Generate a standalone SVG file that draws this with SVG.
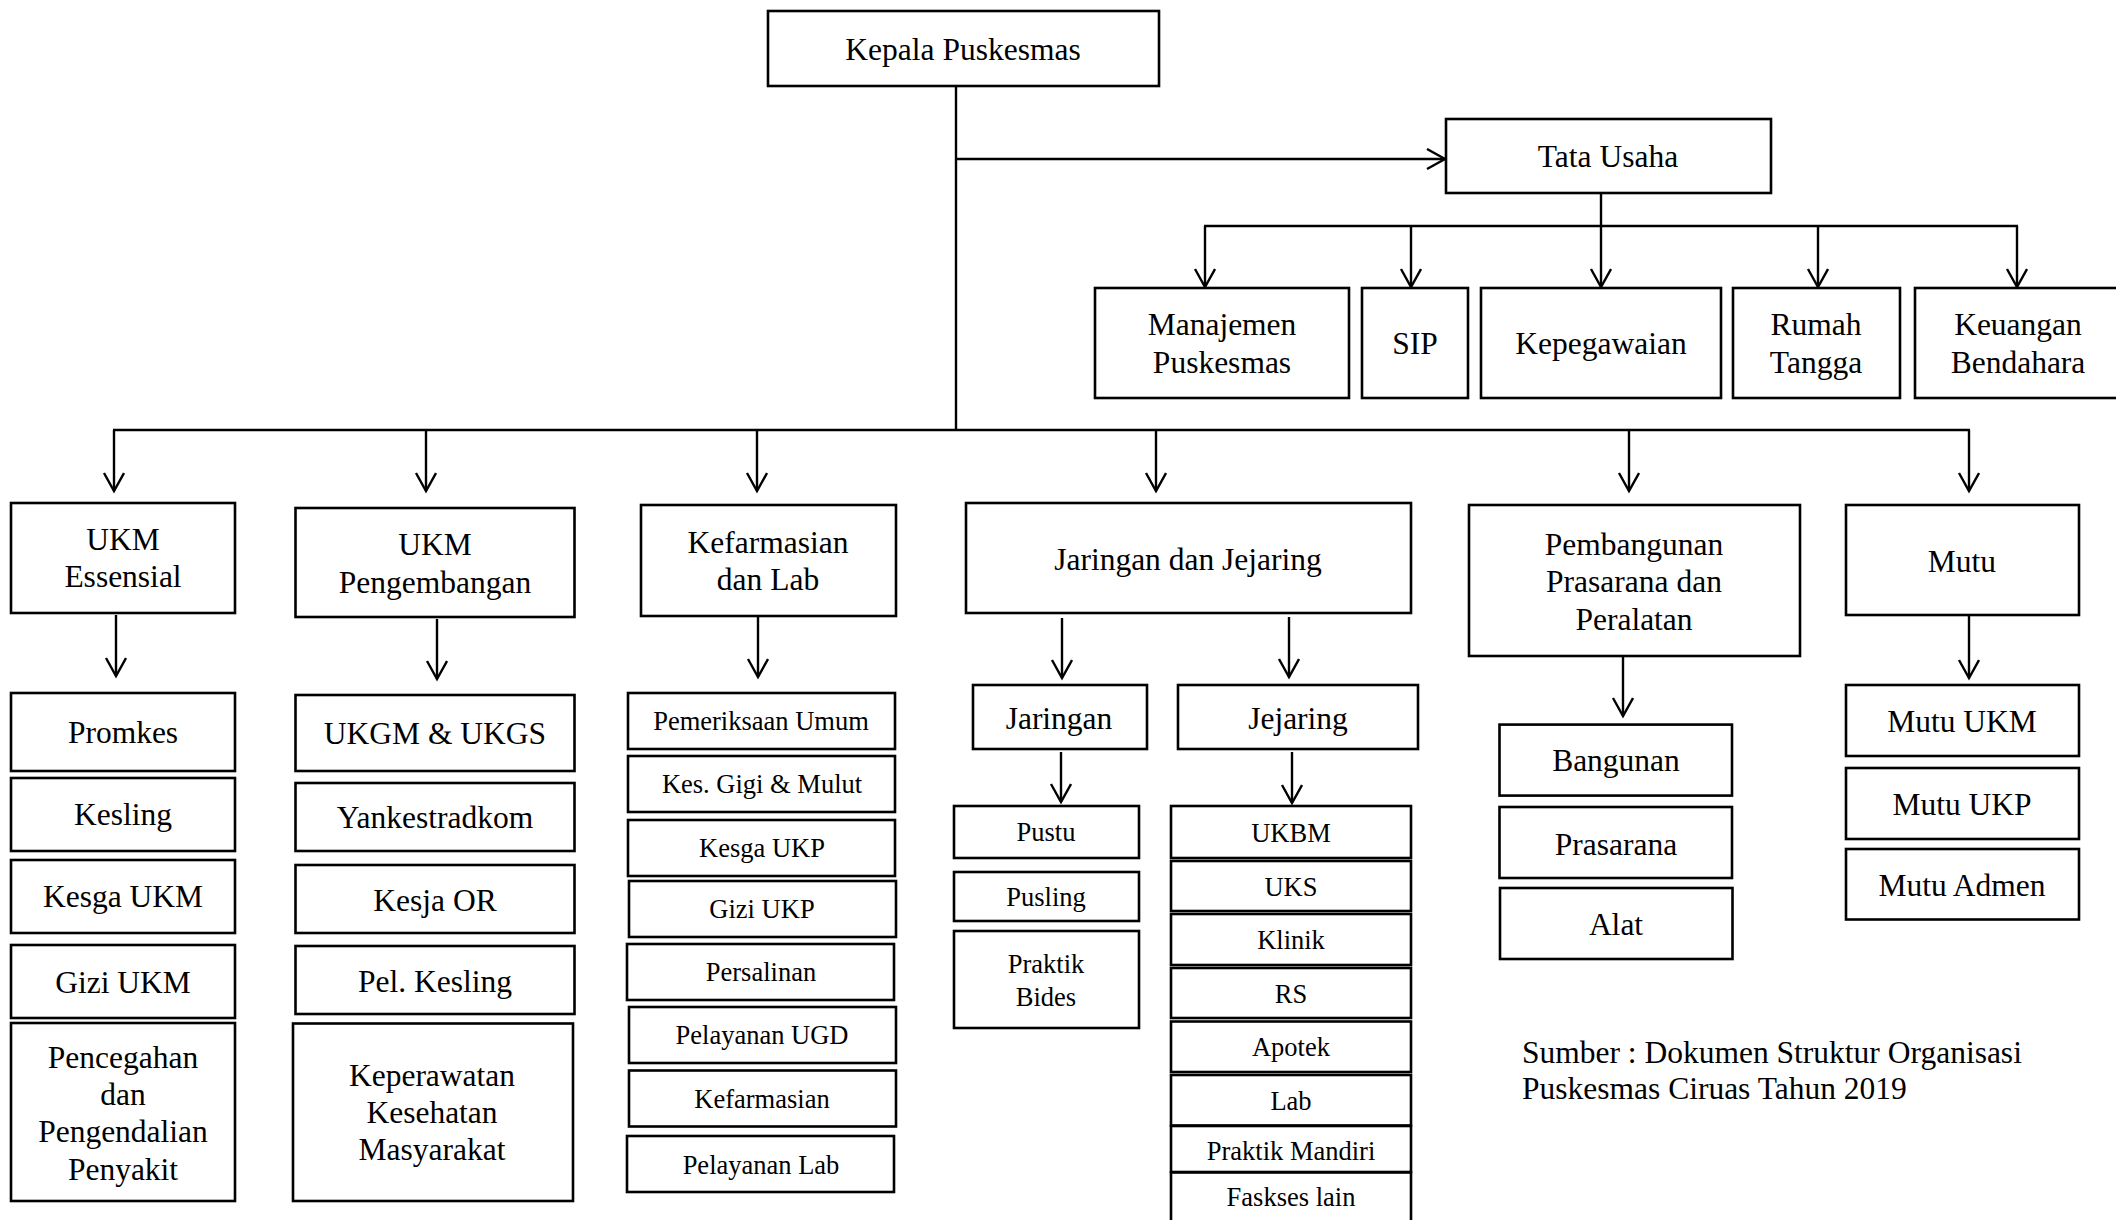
<svg xmlns="http://www.w3.org/2000/svg" width="2116" height="1220" viewBox="0 0 2116 1220">
<style>
rect{fill:#fff;stroke:#000;stroke-width:2.6}
text{font-family:"Liberation Serif","Times New Roman",serif;font-size:31.5px;text-anchor:middle;fill:#000}
text.s{font-size:26.5px}
text.l{text-anchor:start}
#connectors line{stroke:#000;stroke-width:2.4;fill:none}
#connectors line.a{marker-end:url(#arr)}
</style>
<defs>
<marker id="arr" markerUnits="userSpaceOnUse" markerWidth="26" markerHeight="26" refX="20" refY="11" orient="auto">
<path d="M2,1 L20,11 L2,21" fill="none" stroke="#000" stroke-width="2.4"/>
</marker>
</defs>
<rect x="0" y="0" width="2116" height="1220" style="stroke:none;fill:#fff"/>
<g id="connectors">
<line x1="956" y1="86" x2="956" y2="431"/>
<line class="a" x1="956" y1="159" x2="1445" y2="159"/>
<line x1="1601" y1="193" x2="1601" y2="226"/>
<line x1="1204" y1="226" x2="2018" y2="226"/>
<line class="a" x1="1205" y1="226" x2="1205" y2="287"/>
<line class="a" x1="1411" y1="226" x2="1411" y2="287"/>
<line class="a" x1="1601" y1="226" x2="1601" y2="287"/>
<line class="a" x1="1818" y1="226" x2="1818" y2="287"/>
<line class="a" x1="2017" y1="226" x2="2017" y2="287"/>
<line x1="113" y1="430" x2="1970" y2="430"/>
<line class="a" x1="114" y1="430" x2="114" y2="491"/>
<line class="a" x1="426" y1="430" x2="426" y2="491"/>
<line class="a" x1="757" y1="430" x2="757" y2="491"/>
<line class="a" x1="1156" y1="430" x2="1156" y2="491"/>
<line class="a" x1="1629" y1="430" x2="1629" y2="491"/>
<line class="a" x1="1969" y1="430" x2="1969" y2="491"/>
<line class="a" x1="116" y1="615" x2="116" y2="676"/>
<line class="a" x1="437" y1="619" x2="437" y2="679"/>
<line class="a" x1="758" y1="617" x2="758" y2="677"/>
<line class="a" x1="1062" y1="618" x2="1062" y2="678"/>
<line class="a" x1="1289" y1="617" x2="1289" y2="677"/>
<line class="a" x1="1623" y1="657" x2="1623" y2="716"/>
<line class="a" x1="1969" y1="616" x2="1969" y2="678"/>
<line class="a" x1="1061" y1="752" x2="1061" y2="802"/>
<line class="a" x1="1292" y1="752" x2="1292" y2="803"/>
</g>
<g id="kepala"><rect x="768" y="11" width="391" height="75"/><text x="963" y="60">Kepala Puskesmas</text></g>
<g id="tata-usaha"><rect x="1446" y="119" width="325" height="74"/><text x="1608" y="167">Tata Usaha</text></g>
<g id="manajemen"><rect x="1095" y="288" width="254" height="110"/><text x="1222" y="335">Manajemen</text><text x="1222" y="373">Puskesmas</text></g>
<g id="sip"><rect x="1362" y="288" width="106" height="110"/><text x="1415" y="354">SIP</text></g>
<g id="kepegawaian"><rect x="1481" y="288" width="240" height="110"/><text x="1601" y="354">Kepegawaian</text></g>
<g id="rumah-tangga"><rect x="1733" y="288" width="167" height="110"/><text x="1816" y="335">Rumah</text><text x="1816" y="373">Tangga</text></g>
<g id="keuangan"><rect x="1915" y="288" width="210" height="110"/><text x="2018" y="335">Keuangan</text><text x="2018" y="373">Bendahara</text></g>
<g id="ukm-essensial"><rect x="11" y="503" width="224" height="110"/><text x="123" y="550">UKM</text><text x="123" y="587">Essensial</text></g>
<g id="ukm-pengembangan"><rect x="295.5" y="508" width="279" height="109"/><text x="435" y="555">UKM</text><text x="435" y="593">Pengembangan</text></g>
<g id="kefarmasian-lab"><rect x="641" y="505" width="255" height="111"/><text x="768" y="553">Kefarmasian</text><text x="768" y="590">dan Lab</text></g>
<g id="jaringan-jejaring"><rect x="966" y="503" width="445" height="110"/><text x="1188" y="570">Jaringan dan Jejaring</text></g>
<g id="pembangunan"><rect x="1469" y="505" width="331" height="151"/><text x="1634" y="555">Pembangunan</text><text x="1634" y="592">Prasarana dan</text><text x="1634" y="630">Peralatan</text></g>
<g id="mutu"><rect x="1846" y="505" width="233" height="110"/><text x="1962" y="572">Mutu</text></g>
<g id="promkes"><rect x="11" y="693" width="224" height="78"/><text x="123" y="743">Promkes</text></g>
<g id="kesling"><rect x="11" y="778" width="224" height="73"/><text x="123" y="825">Kesling</text></g>
<g id="kesga-ukm"><rect x="11" y="860" width="224" height="73"/><text x="123" y="907">Kesga UKM</text></g>
<g id="gizi-ukm"><rect x="11" y="945" width="224" height="73"/><text x="123" y="993">Gizi UKM</text></g>
<g id="pencegahan"><rect x="11" y="1023" width="224" height="178"/><text x="123" y="1068">Pencegahan</text><text x="123" y="1105">dan</text><text x="123" y="1142">Pengendalian</text><text x="123" y="1180">Penyakit</text></g>
<g id="ukgm-ukgs"><rect x="295.5" y="695" width="279" height="76"/><text x="435" y="744">UKGM &amp; UKGS</text></g>
<g id="yankestradkom"><rect x="295.5" y="783" width="279" height="68"/><text x="435" y="828">Yankestradkom</text></g>
<g id="kesja-or"><rect x="295.5" y="865" width="279" height="68"/><text x="435" y="911">Kesja OR</text></g>
<g id="pel-kesling"><rect x="295.5" y="946" width="279" height="68"/><text x="435" y="992">Pel. Kesling</text></g>
<g id="keperawatan"><rect x="293" y="1023.5" width="280" height="177.5"/><text x="432" y="1086">Keperawatan</text><text x="432" y="1123">Kesehatan</text><text x="432" y="1160">Masyarakat</text></g>
<g id="pemeriksaan-umum"><rect x="628" y="693" width="267" height="56"/><text class="s" x="761" y="730">Pemeriksaan Umum</text></g>
<g id="kes-gigi"><rect x="628" y="756" width="267" height="56"/><text class="s" x="762" y="793">Kes. Gigi &amp; Mulut</text></g>
<g id="kesga-ukp"><rect x="628" y="820" width="267" height="56"/><text class="s" x="762" y="857">Kesga UKP</text></g>
<g id="gizi-ukp"><rect x="629" y="881" width="267" height="56"/><text class="s" x="762" y="918">Gizi UKP</text></g>
<g id="persalinan"><rect x="627" y="944" width="267" height="56"/><text class="s" x="761" y="981">Persalinan</text></g>
<g id="pelayanan-ugd"><rect x="629" y="1007" width="267" height="56"/><text class="s" x="762" y="1044">Pelayanan UGD</text></g>
<g id="kefarmasian"><rect x="629" y="1070.5" width="267" height="56"/><text class="s" x="762" y="1108">Kefarmasian</text></g>
<g id="pelayanan-lab"><rect x="627" y="1136" width="267" height="56"/><text class="s" x="761" y="1174">Pelayanan Lab</text></g>
<g id="jaringan"><rect x="973" y="685" width="174" height="64"/><text x="1059" y="729">Jaringan</text></g>
<g id="jejaring"><rect x="1178" y="685" width="240" height="64"/><text x="1298" y="729">Jejaring</text></g>
<g id="pustu"><rect x="954" y="806" width="185" height="52"/><text class="s" x="1046" y="841">Pustu</text></g>
<g id="pusling"><rect x="954" y="872" width="185" height="49"/><text class="s" x="1046" y="906">Pusling</text></g>
<g id="praktik-bides"><rect x="954" y="931" width="185" height="97"/><text class="s" x="1046" y="973">Praktik</text><text class="s" x="1046" y="1006">Bides</text></g>
<g id="ukbm"><rect x="1171" y="806" width="240" height="52"/><text class="s" x="1291" y="842">UKBM</text></g>
<g id="uks"><rect x="1171" y="861" width="240" height="50"/><text class="s" x="1291" y="896">UKS</text></g>
<g id="klinik"><rect x="1171" y="914" width="240" height="51"/><text class="s" x="1291" y="949">Klinik</text></g>
<g id="rs"><rect x="1171" y="968" width="240" height="50"/><text class="s" x="1291" y="1003">RS</text></g>
<g id="apotek"><rect x="1171" y="1021.5" width="240" height="50.5"/><text class="s" x="1291" y="1056">Apotek</text></g>
<g id="lab"><rect x="1171" y="1075" width="240" height="50.5"/><text class="s" x="1291" y="1110">Lab</text></g>
<g id="praktik-mandiri"><rect x="1171" y="1126" width="240" height="46"/><text class="s" x="1291" y="1160">Praktik Mandiri</text></g>
<g id="faskses-lain"><rect x="1171" y="1172.5" width="240" height="60"/><text class="s" x="1291" y="1206">Faskses lain</text></g>
<g id="bangunan"><rect x="1499.5" y="724.6" width="232.5" height="71"/><text x="1616" y="771">Bangunan</text></g>
<g id="prasarana"><rect x="1499.5" y="807" width="232.5" height="71"/><text x="1616" y="855">Prasarana</text></g>
<g id="alat"><rect x="1500" y="888" width="232.5" height="71"/><text x="1616" y="935">Alat</text></g>
<g id="mutu-ukm"><rect x="1846" y="685" width="233" height="71"/><text x="1962" y="732">Mutu UKM</text></g>
<g id="mutu-ukp"><rect x="1846" y="768" width="233" height="71"/><text x="1962" y="815">Mutu UKP</text></g>
<g id="mutu-admen"><rect x="1846" y="849" width="233" height="70.5"/><text x="1962" y="896">Mutu Admen</text></g>
<g id="sumber"><text class="l" x="1522" y="1063">Sumber : Dokumen Struktur Organisasi</text><text class="l" x="1522" y="1099">Puskesmas Ciruas Tahun 2019</text></g>
</svg>
